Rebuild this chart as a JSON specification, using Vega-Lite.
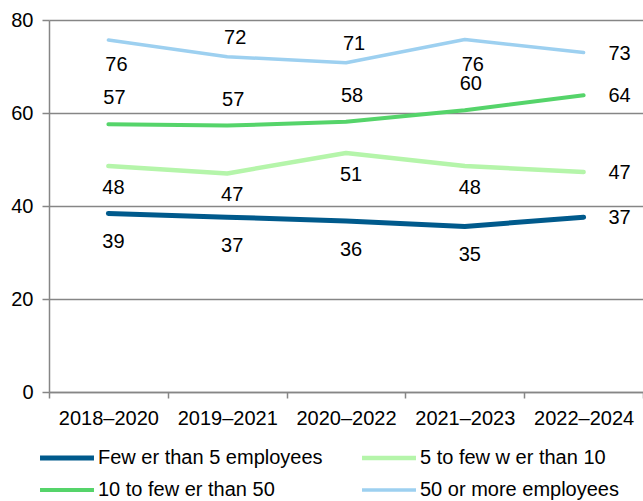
{
  "$schema": "https://vega.github.io/schema/vega-lite/v6.json",
  "width": 594,
  "height": 372,
  "autosize": {"type": "none"},
  "padding": {"left": 49, "top": 20, "right": 0, "bottom": 109},
  "config": {
    "font": "Liberation Sans",
    "view": {"stroke": null},
    "axis": {"labelFont": "Liberation Sans", "labelFontSize": 20, "labelColor": "#000000", "domainColor": "#868686", "domainWidth": 1.5, "tickColor": "#868686", "tickWidth": 1.5, "title": null},
    "legend": {"labelFont": "Liberation Sans", "labelFontSize": 20, "labelColor": "#000000"}
  },
  "data": {
    "values": [
      {"period": "2018–2020", "series": "Few er than 5 employees", "value": 38.4, "label": "39"},
      {"period": "2019–2021", "series": "Few er than 5 employees", "value": 37.6, "label": "37"},
      {"period": "2020–2022", "series": "Few er than 5 employees", "value": 36.8, "label": "36"},
      {"period": "2021–2023", "series": "Few er than 5 employees", "value": 35.6, "label": "35"},
      {"period": "2022–2024", "series": "Few er than 5 employees", "value": 37.6, "label": "37"},
      {"period": "2018–2020", "series": "5 to few w er than 10", "value": 48.6, "label": "48"},
      {"period": "2019–2021", "series": "5 to few w er than 10", "value": 47.0, "label": "47"},
      {"period": "2020–2022", "series": "5 to few w er than 10", "value": 51.4, "label": "51"},
      {"period": "2021–2023", "series": "5 to few w er than 10", "value": 48.6, "label": "48"},
      {"period": "2022–2024", "series": "5 to few w er than 10", "value": 47.3, "label": "47"},
      {"period": "2018–2020", "series": "10 to few er than 50", "value": 57.6, "label": "57"},
      {"period": "2019–2021", "series": "10 to few er than 50", "value": 57.3, "label": "57"},
      {"period": "2020–2022", "series": "10 to few er than 50", "value": 58.1, "label": "58"},
      {"period": "2021–2023", "series": "10 to few er than 50", "value": 60.6, "label": "60"},
      {"period": "2022–2024", "series": "10 to few er than 50", "value": 63.8, "label": "64"},
      {"period": "2018–2020", "series": "50 or more employees", "value": 75.7, "label": "76"},
      {"period": "2019–2021", "series": "50 or more employees", "value": 72.1, "label": "72"},
      {"period": "2020–2022", "series": "50 or more employees", "value": 70.8, "label": "71"},
      {"period": "2021–2023", "series": "50 or more employees", "value": 75.8, "label": "76"},
      {"period": "2022–2024", "series": "50 or more employees", "value": 73.0, "label": "73"}
    ]
  },
  "encoding": {
    "x": {
      "field": "period", "type": "nominal", "sort": null, "bandPosition": 0.5,
      "scale": {"type": "band", "paddingInner": 0, "paddingOuter": 0},
      "axis": {"labelAngle": 0, "tickBand": "extent", "tickSize": 6, "labelPadding": 10, "grid": false}
    },
    "y": {
      "field": "value", "type": "quantitative",
      "scale": {"domain": [0, 80], "nice": false},
      "axis": {"values": [0, 20, 40, 60, 80], "tickSize": 7, "labelPadding": 9, "grid": true, "gridColor": "#868686", "gridWidth": 1.5, "gridOpacity": 1}
    }
  },
  "layer": [
    {
      "mark": {"type": "line", "strokeCap": "round", "strokeJoin": "round"},
      "encoding": {
        "color": {
          "field": "series", "type": "nominal",
          "scale": {"domain": ["Few er than 5 employees", "5 to few w er than 10", "10 to few er than 50", "50 or more employees"], "range": ["#005a8c", "#b5f5aa", "#55d46a", "#9dd0f0"]},
          "legend": {"title": null, "orient": "none", "direction": "horizontal", "legendX": 8, "legendY": 428, "columns": 2, "columnPadding": 30, "rowPadding": 12, "symbolType": "M-4,0H4", "symbolSize": 182, "symbolStrokeWidth": 4.5, "labelOffset": 21, "labelLimit": 400}
        },
        "strokeWidth": {
          "field": "series", "type": "nominal",
          "scale": {"domain": ["Few er than 5 employees", "5 to few w er than 10", "10 to few er than 50", "50 or more employees"], "range": [5, 3.5, 3.5, 3.5]},
          "legend": null
        }
      }
    },
    {
      "transform": [{"filter": "datum.period === '2022–2024'"}],
      "mark": {"type": "text", "fontSize": 20, "color": "#000000", "dx": 36, "dy": 1},
      "encoding": {"text": {"field": "label"}}
    },
    {
      "transform": [{"filter": "datum.period !== '2022–2024' && datum.series === 'Few er than 5 employees'"}],
      "mark": {"type": "text", "fontSize": 20, "color": "#000000", "dx": 5, "dy": 29},
      "encoding": {"text": {"field": "label"}}
    },
    {
      "transform": [{"filter": "datum.period !== '2022–2024' && datum.series === '5 to few w er than 10'"}],
      "mark": {"type": "text", "fontSize": 20, "color": "#000000", "dx": 5, "dy": 22},
      "encoding": {"text": {"field": "label"}}
    },
    {
      "transform": [{"filter": "datum.period !== '2022–2024' && datum.series === '10 to few er than 50'"}],
      "mark": {"type": "text", "fontSize": 20, "color": "#000000", "dx": 6, "dy": -26},
      "encoding": {"text": {"field": "label"}}
    },
    {
      "transform": [{"filter": "datum.series === '50 or more employees' && (datum.period === '2018–2020' || datum.period === '2021–2023')"}],
      "mark": {"type": "text", "fontSize": 20, "color": "#000000", "dx": 8, "dy": 25},
      "encoding": {"text": {"field": "label"}}
    },
    {
      "transform": [{"filter": "datum.series === '50 or more employees' && (datum.period === '2019–2021' || datum.period === '2020–2022')"}],
      "mark": {"type": "text", "fontSize": 20, "color": "#000000", "dx": 8, "dy": -19},
      "encoding": {"text": {"field": "label"}}
    }
  ]
}
